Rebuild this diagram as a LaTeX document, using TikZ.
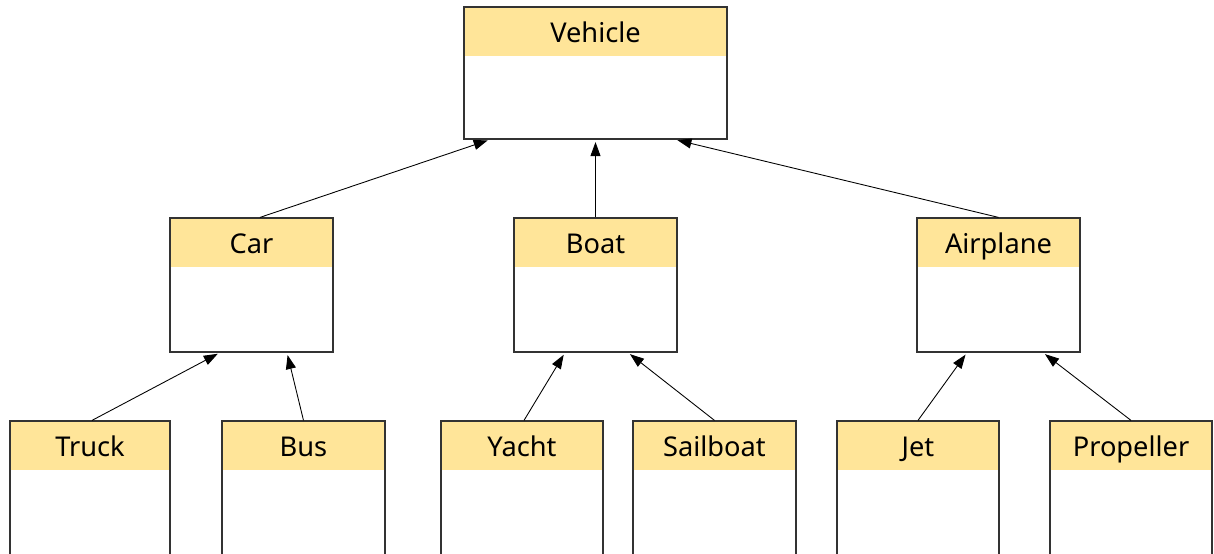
\documentclass[tikz,border=0pt]{standalone}
\usepackage{fontspec}
\setmainfont{Noto Sans}
\usepackage{tikz}
\usetikzlibrary{arrows.meta}
\definecolor{headyellow}{HTML}{FFE599}
\definecolor{boxline}{HTML}{333333}
\tikzset{
  classbox/.style 2 args={draw=boxline, line width=0.7pt, fill=white,
    minimum width=#1, minimum height=#2, inner sep=0pt,
    path picture={\fill[headyellow] (path picture bounding box.north west)
      rectangle ([yshift=-0.98cm]path picture bounding box.north east);}},
  classname/.style={anchor=base, yshift=-0.73cm, font=\fontsize{15.5}{19}\selectfont, text=black},
  inherits/.style={draw=black, line width=0.5pt, shorten >=0.05cm,
    -{Triangle[length=0.28cm,width=0.2cm]}}
}
\begin{document}
\begin{tikzpicture}[x=0.02cm,y=-0.02cm]
	    \useasboundingbox (0,0) rectangle (1214,554);
	    \clip (0,0) rectangle (1214,554);
	    % top
	    \node[classbox={5.26cm}{2.64cm}, label={[classname]north:Vehicle}] (vehicle) at (595.5,73) {};
	    % middle row
	    \node[classbox={3.26cm}{2.68cm}, label={[classname]north:Car}] (car) at (251.5,285) {};
	    \node[classbox={3.26cm}{2.68cm}, label={[classname]north:Boat}] (boat) at (595.5,285) {};
	    \node[classbox={3.26cm}{2.68cm}, label={[classname]north:Airplane}] (airplane) at (998.5,285) {};
	    % bottom row
	    \node[classbox={3.2cm}{3cm}, label={[classname]north:Truck}] (truck) at (90,496) {};
	    \node[classbox={3.26cm}{3cm}, label={[classname]north:Bus}] (bus) at (303.5,496) {};
	    \node[classbox={3.24cm}{3cm}, label={[classname]north:Yacht}] (yacht) at (522,496) {};
	    \node[classbox={3.26cm}{3cm}, label={[classname]north:Sailboat}] (sailboat) at (714.5,496) {};
	    \node[classbox={3.24cm}{3cm}, label={[classname]north:Jet}] (jet) at (918,496) {};
	    \node[classbox={3.24cm}{3cm}, label={[classname]north:Propeller}] (propeller) at (1131,496) {};
	    % arrows
	    \draw[inherits] ([xshift=0.17cm]car.north) -- ([xshift=-2.11cm]vehicle.south);
	    \draw[inherits] (boat.north) -- (vehicle.south);
	    \draw[inherits] (airplane.north) -- ([xshift=1.59cm]vehicle.south);
	    \draw[inherits] ([xshift=0.04cm]truck.north) -- ([xshift=-0.63cm]car.south);
	    \draw[inherits] (bus.north) -- ([xshift=0.71cm]car.south);
	    \draw[inherits] ([xshift=0.04cm]yacht.north) -- ([xshift=-0.61cm]boat.south);
	    \draw[inherits] (sailboat.north) -- ([xshift=0.65cm]boat.south);
	    \draw[inherits] (jet.north) -- ([xshift=-0.63cm]airplane.south);
	    \draw[inherits] (propeller.north) -- ([xshift=0.89cm]airplane.south);
\end{tikzpicture}
\end{document}
